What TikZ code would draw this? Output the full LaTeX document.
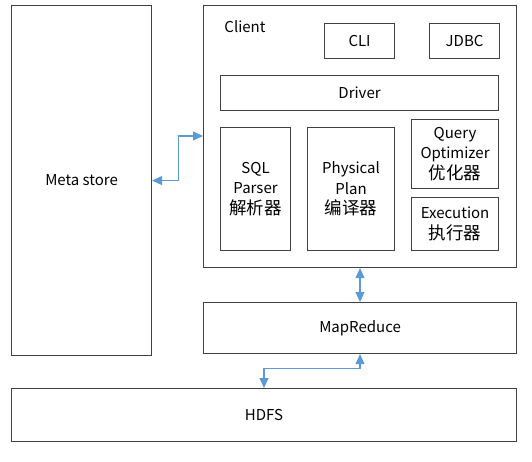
\documentclass[tikz,border=0pt]{standalone}
\usepackage{fontspec}
\setmainfont{Noto Sans CJK SC}
\usetikzlibrary{arrows.meta}
\definecolor{arr}{HTML}{5B9BD5}
\definecolor{edge}{HTML}{404040}
\newcommand{\zh}[1]{{\fontsize{17.5}{20.5}\selectfont #1}}
\begin{document}
\begin{tikzpicture}[x=1pt,y=-1pt,
 box/.style={draw=edge, line width=1.1pt, inner sep=0pt, align=center, anchor=north west,
   font=\fontsize{15}{20.5}\selectfont},
 lbl/.style={inner sep=0pt, font=\fontsize{15}{20.5}\selectfont},
 conn/.style={draw=arr, line width=1.1pt,
   {Triangle[length=10pt,width=9pt]}-{Triangle[length=10pt,width=9pt]}}]
\useasboundingbox (0,0) rectangle (532,462);
\node[box, minimum width=140pt, minimum height=350pt] (meta) at (11,5) {Meta store};
\node[box, minimum width=313pt, minimum height=262pt] (client) at (203,5) {};
\node[lbl] (clientlbl) at (245,27) {Client};
\node[box, minimum width=70pt, minimum height=35pt] (cli) at (324,23) {CLI};
\node[box, minimum width=70pt, minimum height=35pt] (jdbc) at (429,23) {JDBC};
\node[box, minimum width=278pt, minimum height=35pt] (driver) at (220,75) {Driver};
\node[box, minimum width=70pt, minimum height=123pt] (sql) at (220,127) {SQL\\Parser\\\zh{解析器}};
\node[box, minimum width=87pt, minimum height=123pt] (plan) at (307,127) {Physical\\Plan\\\zh{编译器}};
\node[box, minimum width=87pt, minimum height=69pt] (opt) at (411,119) {Query\\Optimizer\\\zh{优化器}};
\node[box, minimum width=87pt, minimum height=53pt] (exec) at (411,197) {Execution\\\zh{执行器}};
\node[box, minimum width=313pt, minimum height=51pt] (mr) at (203,302) {MapReduce};
\node[box, minimum width=505pt, minimum height=53pt] (hdfs) at (11,388) {HDFS};
\coordinate (cx) at (360,0);
\coordinate (hx) at (264,0);
\coordinate (my) at (0,136);
\draw[conn] (meta.east) -- ++(26,0) |- (client.west |- my);
\draw[conn] (client.south -| cx) -- (mr.north -| cx);
\draw[conn] (mr.south -| cx) -- ++(0,14) -| (hdfs.north -| hx);
\end{tikzpicture}
\end{document}
